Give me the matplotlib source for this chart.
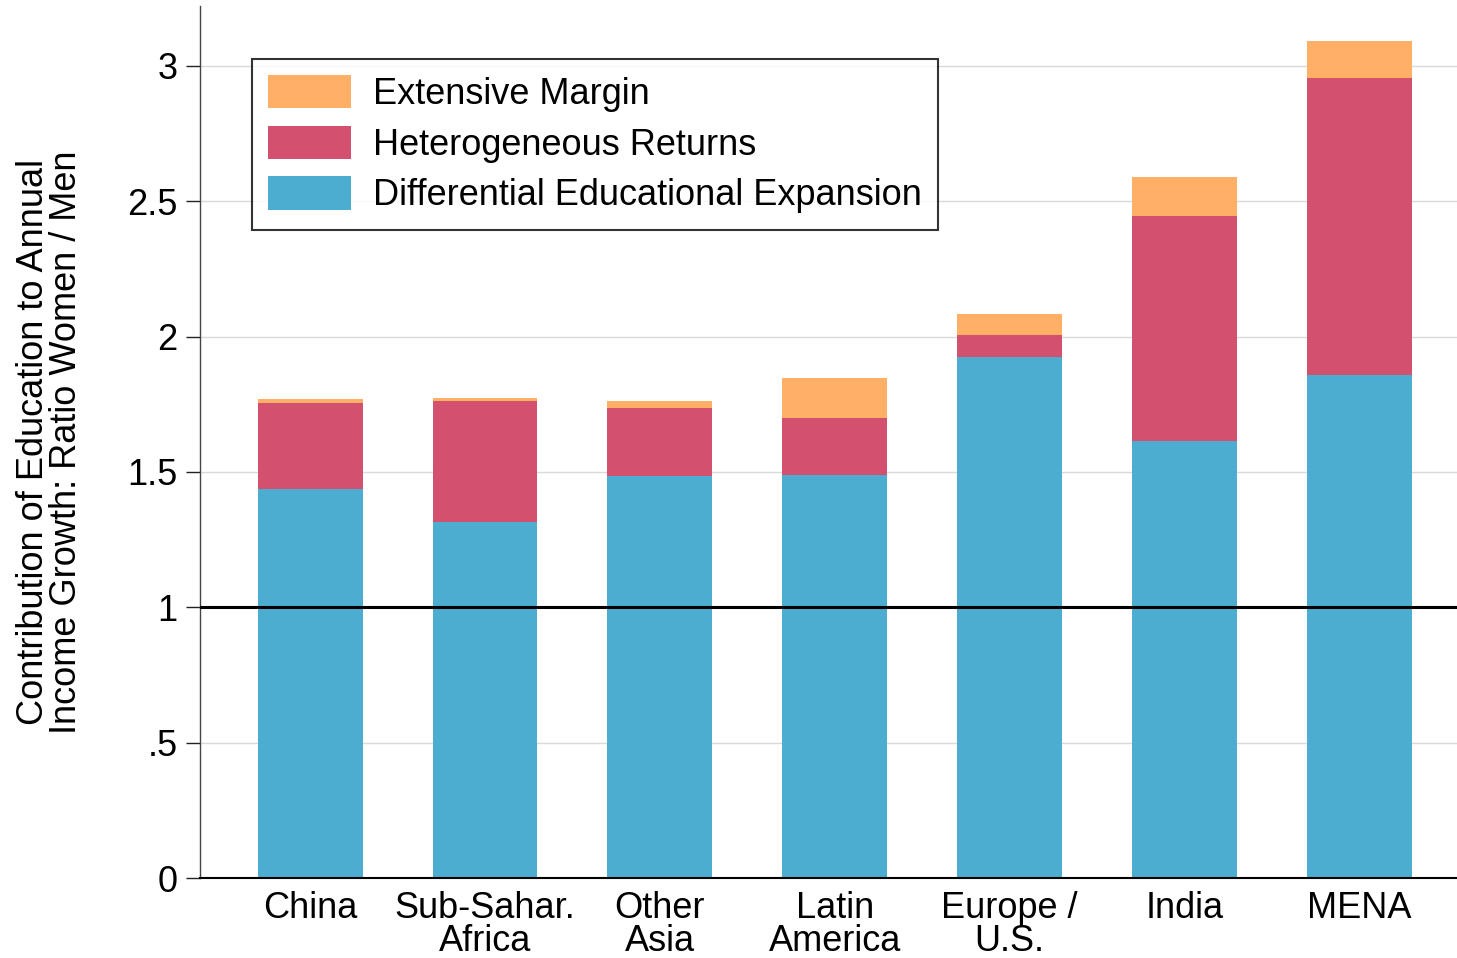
import numpy as np
import matplotlib.pyplot as plt

plt.rcParams["font.family"] = ["Liberation Sans", "DejaVu Sans"]

regions = ["China", "Sub-Sahar.\nAfrica", "Other\nAsia", "Latin\nAmerica",
           "Europe /\nU.S.", "India", "MENA"]
# bar totals (cumulative tops of each segment)
diff_expansion = np.array([1.437, 1.315, 1.485, 1.489, 1.926, 1.615, 1.859])
hetero_top = np.array([1.756, 1.763, 1.737, 1.700, 2.007, 2.444, 2.956])
extensive_top = np.array([1.770, 1.774, 1.763, 1.848, 2.083, 2.589, 3.093])

hetero = hetero_top - diff_expansion
extensive = extensive_top - hetero_top

yticks = [0, 0.5, 1, 1.5, 2, 2.5, 3]
yticklabels = ["0", ".5", "1", "1.5", "2", "2.5", "3"]

blue = "#4DADD0"
red = "#D3516F"
orange = "#FFB066"

fig = plt.figure(figsize=(14.57, 9.58), dpi=100)
ax = fig.add_axes([0.1373, 0.0835, 0.8627, 0.910])

x = np.arange(len(regions))
w = 0.6
b1 = ax.bar(x, diff_expansion, w, color=blue, label="Differential Educational Expansion", zorder=2)
b2 = ax.bar(x, hetero, w, bottom=diff_expansion, color=red, label="Heterogeneous Returns", zorder=2)
b3 = ax.bar(x, extensive, w, bottom=hetero_top, color=orange, label="Extensive Margin", zorder=2)

ax.axhline(1, color="black", lw=2.2, zorder=3)
ax.set_xlim(-0.63, 6.56)
ax.set_ylim(0, 3.22)
ax.set_yticks(yticks)
ax.set_yticklabels(yticklabels)
ax.yaxis.grid(True, color="#d9d9d9", lw=1, zorder=0)
ax.set_axisbelow(True)
ax.set_xticks(x)
ax.set_xticklabels(regions, linespacing=0.95)
ax.tick_params(axis="x", length=0, labelsize=26, pad=9)
ax.tick_params(axis="y", length=10, width=1, labelsize=26, pad=6, color="#222222")

for s in ["top", "right"]:
    ax.spines[s].set_visible(False)
ax.spines["left"].set_linewidth(1)
ax.spines["left"].set_color("#444444")
ax.spines["bottom"].set_linewidth(1.5)

ax.set_ylabel("Contribution of Education to Annual\nIncome Growth: Ratio Women / Men",
              fontsize=26, linespacing=0.95)
ax.yaxis.set_label_coords(-0.092, 0.5)

leg = ax.legend(handles=[b3, b2, b1], loc="upper left", bbox_to_anchor=(0.0414, 0.940),
                fontsize=26, frameon=True, fancybox=False, edgecolor="black",
                handlelength=2.3, handleheight=1.05, labelspacing=0.38,
                borderpad=0.45, handletextpad=0.6, borderaxespad=0)
leg.get_frame().set_linewidth(1.5)

fig.savefig("out.png", dpi=100)
